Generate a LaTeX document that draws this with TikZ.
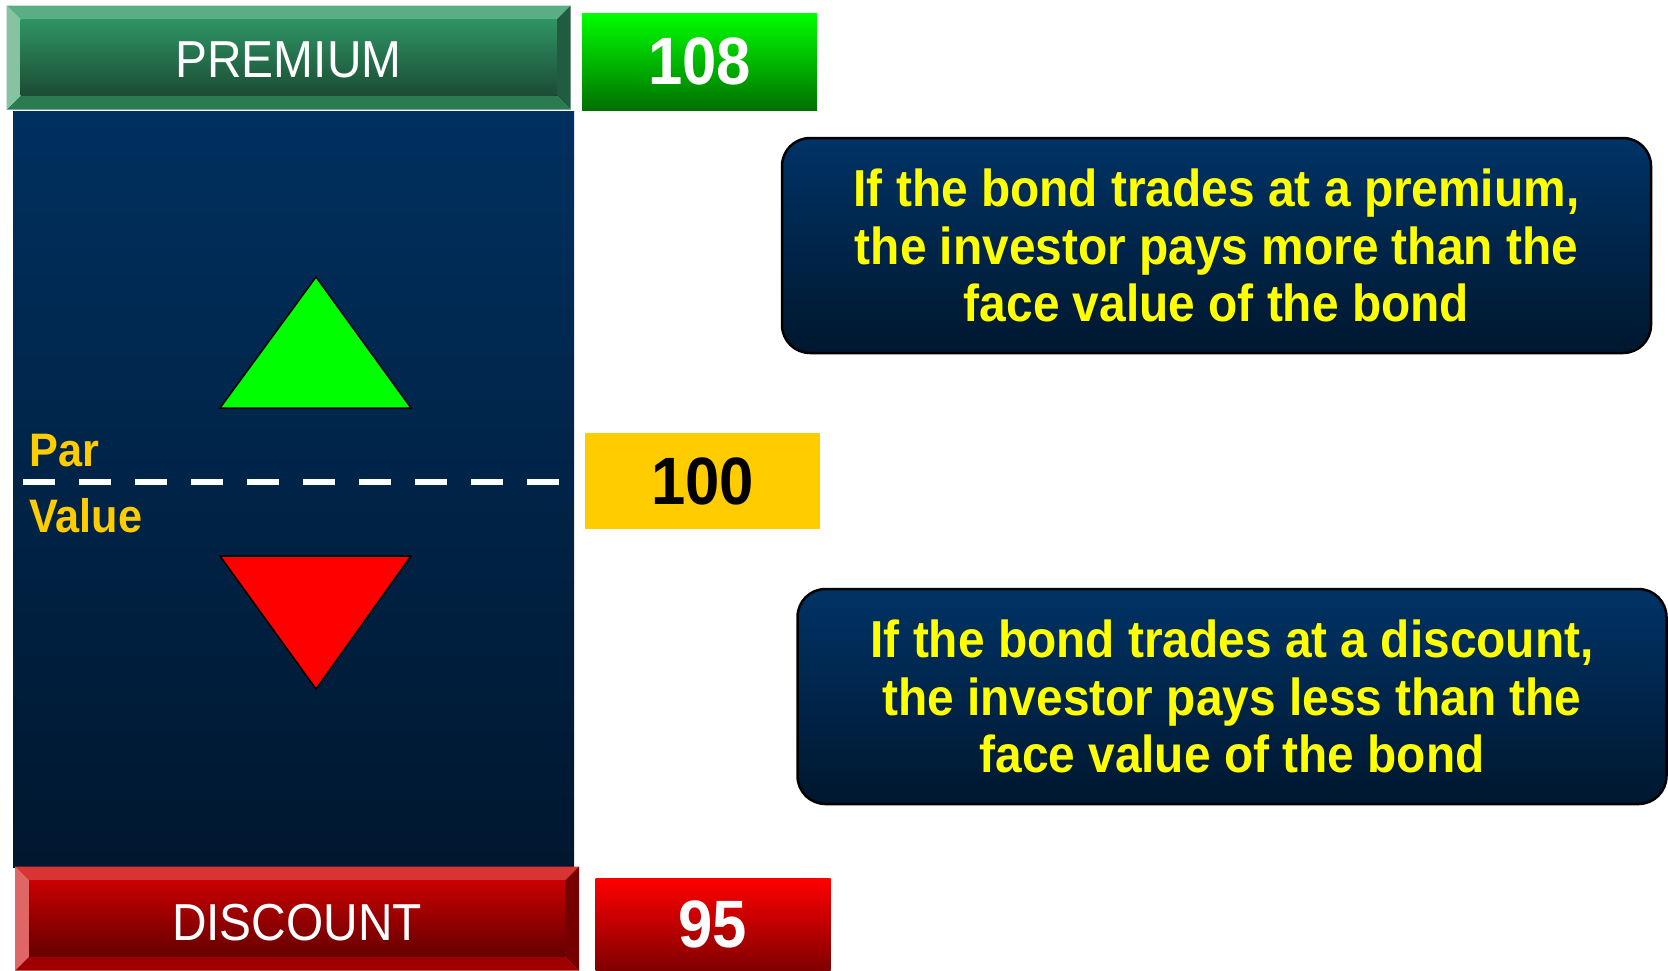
\documentclass[tikz,border=0pt]{standalone}
\usepackage{fontspec}
\setmainfont{Liberation Sans}[FakeStretch=0.92]
\usetikzlibrary{positioning}

\definecolor{premHi}{HTML}{2E9464}
\definecolor{premLo}{HTML}{1C4C34}
\definecolor{premTop}{HTML}{5AAE84}
\definecolor{premLeft}{HTML}{86C3A3}
\definecolor{premRight}{HTML}{225C40}
\definecolor{premBot}{HTML}{2A7B52}
\definecolor{discHi}{HTML}{C80000}
\definecolor{discLo}{HTML}{640000}
\definecolor{discTop}{HTML}{D83434}
\definecolor{discLeft}{HTML}{E06666}
\definecolor{discRight}{HTML}{760000}
\definecolor{discBot}{HTML}{A00000}
\definecolor{panelTop}{HTML}{00305F}
\definecolor{panelMid}{HTML}{002349}
\definecolor{panelBot}{HTML}{00172F}
\definecolor{noteTop}{HTML}{003366}
\definecolor{noteBot}{HTML}{00172E}
\definecolor{parGold}{HTML}{FFCC00}
\definecolor{noteYellow}{HTML}{FFFF00}

\tikzset{
    bevelbox/.pic={
		% outer 564 x 104, bevel 14
		\fill[#1Top] (-282,-52) -- (282,-52) -- (268,-38) -- (-268,-38) -- cycle;
		\fill[#1Bot] (-282,52) -- (282,52) -- (268,38) -- (-268,38) -- cycle;
		\fill[#1Left] (-282,-52) -- (-268,-38) -- (-268,38) -- (-282,52) -- cycle;
		\fill[#1Right] (282,-52) -- (268,-38) -- (268,38) -- (282,52) -- cycle;
		\fill[top color=#1Hi, bottom color=#1Lo] (-268,-38) rectangle (268,38);
	}
}
\tikzset{
    button/.style={inner sep=0pt, text=white, font=\fontsize{52}{60}\selectfont},
    price/.style={inner sep=0pt, minimum width=235pt, font=\fontsize{67}{75}\selectfont\bfseries},
    note/.style={draw=black, line width=2.5pt, rounded corners=28pt, inner sep=0pt,
		minimum width=869pt, minimum height=215pt, top color=noteTop, bottom color=noteBot,
		align=center, text=noteYellow, font=\fontsize{52}{57.5}\selectfont\bfseries},
    parlabel/.style={inner sep=0pt, anchor=base west, text=parGold, font=\fontsize{47}{50}\selectfont\bfseries}
}

\begin{document}
\begin{tikzpicture}[x=1pt,y=-1pt]
	\useasboundingbox (0,0) rectangle (1668,970);
	% price scale
	\node[inner sep=0pt, minimum width=561pt, minimum height=756pt,
		top color=panelTop, middle color=panelMid, bottom color=panelBot] (panel) at (293.5,489) {};
	\pic at (288.5,57.5) {bevelbox={prem}};
	\pic at (297,918.5) {bevelbox={disc}};
	\node[button] (premium) at (288.5,60) {PREMIUM};
	\node[button] (discount) at (297,923) {DISCOUNT};

	\draw[black, line width=1.5pt, fill=green] (316,277) -- (411,408) -- (220,408) -- cycle;
	\draw[black, line width=1.5pt, fill=red] (220,556) -- (411,556) -- (316,689) -- cycle;

	\node[parlabel] (par) at (29,466) {Par};
	\node[parlabel] (value) at (29,532) {Value};
	\draw[white, line width=6pt, dash pattern=on 32pt off 24pt] (23,482) -- (560,482);

	% prices
	\node[price, minimum height=97pt, text=white, top color=green, bottom color={rgb,255:red,0;green,112;blue,0}] (high) at (699.5,61.5) {108};
	\node[price, minimum height=96pt, text=black, fill=parGold] (parPrice) at (702.5,481) {100};
	\node[price, minimum height=92pt, text=white, top color=red, bottom color={rgb,255:red,128;green,0;blue,0}] (low) at (713,924) {95};

	% notes
	\node[note] (premNote) at (1216.5,245.5) {If the bond trades at a premium,\\the investor pays more than the\\face value of the bond};
	\node[note] (discNote) at (1232,696.5) {If the bond trades at a discount,\\the investor pays less than the\\face value of the bond};
\end{tikzpicture}
\end{document}
